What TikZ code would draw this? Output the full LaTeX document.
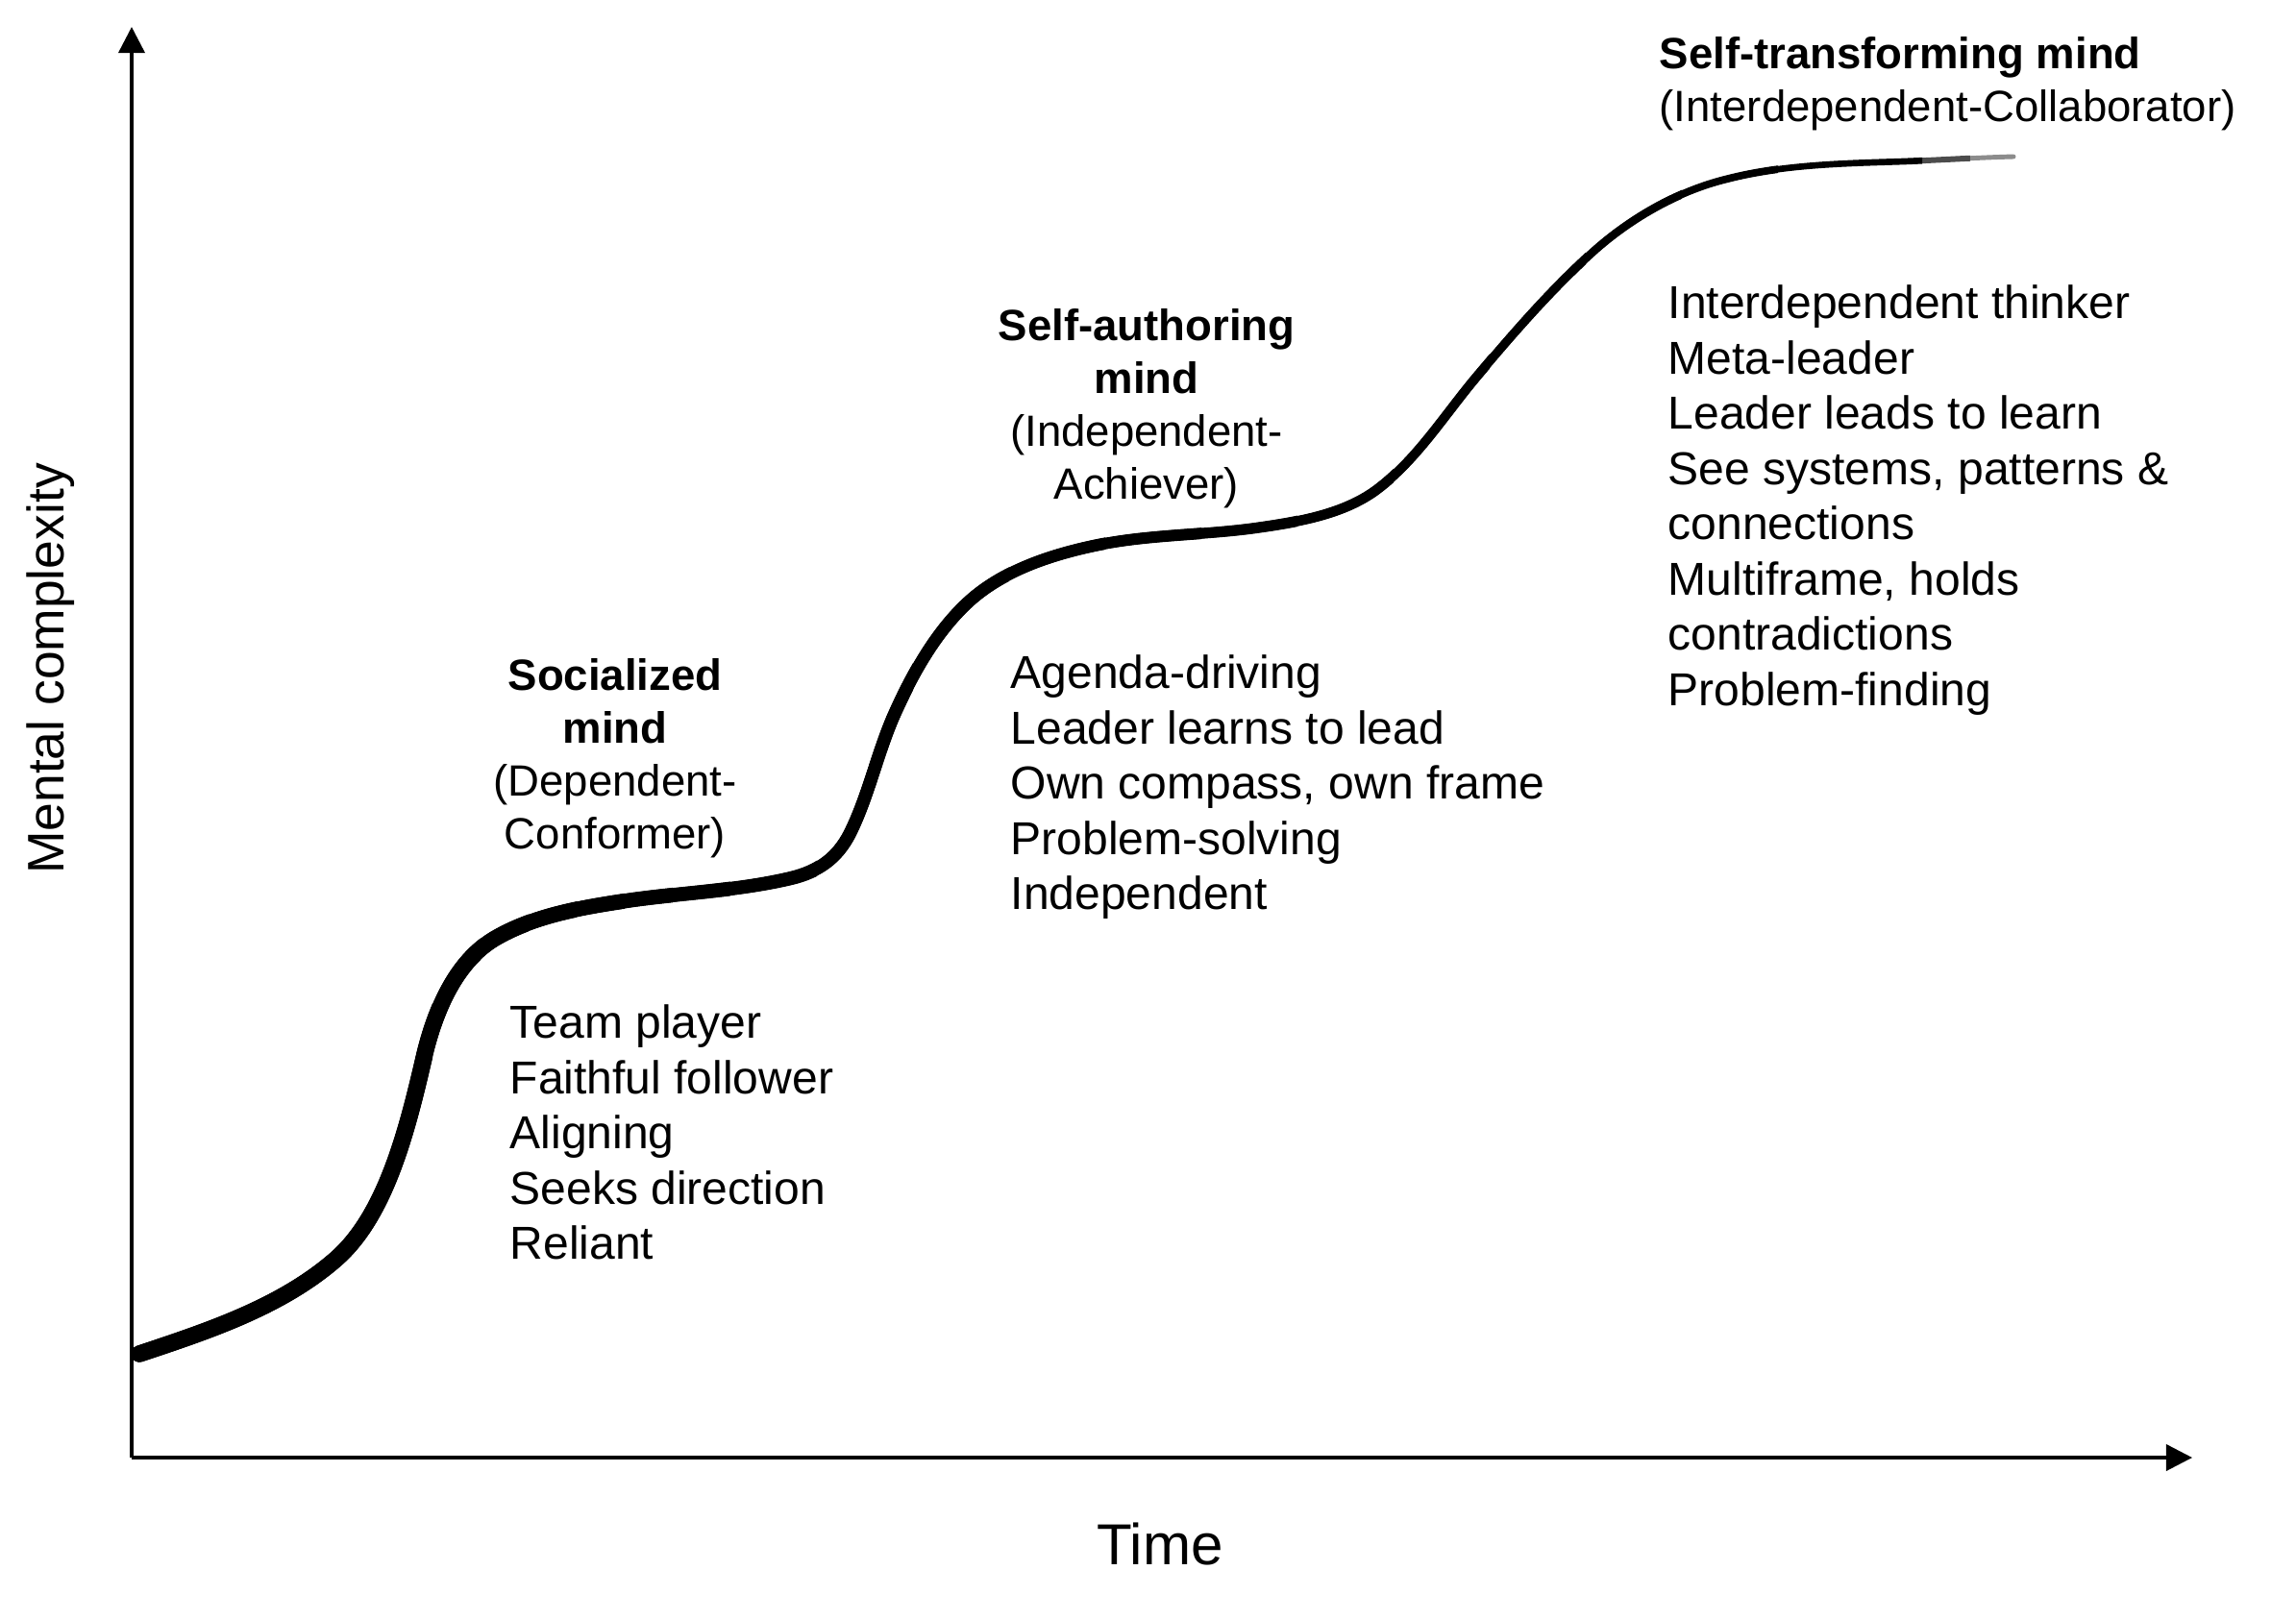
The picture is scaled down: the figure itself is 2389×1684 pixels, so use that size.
\documentclass[tikz,border=0pt]{standalone}
\usepackage{fontspec}
\setmainfont{Liberation Sans}
\usetikzlibrary{arrows.meta}
\begin{document}
\begin{tikzpicture}[x=0.01cm,y=-0.01cm,
  axis/.style={line width=1pt, -{Triangle[length=7.7pt,width=7.7pt]}},
  listtext/.style={anchor=north west, inner sep=0pt, align=left, font=\fontsize{13.66pt}{16.36pt}\selectfont},
  headtext/.style={inner sep=0pt, font=\fontsize{12.95pt}{15.65pt}\selectfont},
  curve/.style={line cap=round, line join=round}]
\useasboundingbox (0,0) rectangle (2389,1684);
\fill[white] (0,0) rectangle (2389,1684);
\coordinate (O) at (137,1517);
\coordinate (ytip) at (137,28);
\coordinate (xtip) at (2281,1517);
\draw[axis] (O) -- (ytip);
\draw[axis] (O) -- (xtip);
\newcommand\growthpath{(145,1409) .. controls (217,1385) and (293,1360) .. (350,1310)
 .. controls (402,1264) and (424,1175) .. (442,1097)
 .. controls (455,1044) and (478,997) .. (518,975)
 .. controls (559,952) and (608,944) .. (655,937)
 .. controls (711,929) and (768,927) .. (823,914)
 .. controls (852,907) and (871,893) .. (884,868)
 .. controls (903,830) and (912,787) .. (929,747)
 .. controls (948,704) and (972,660) .. (1006,628)
 .. controls (1042,594) and (1094,577) .. (1143,567)
 .. controls (1198,556) and (1255,557) .. (1310,549)
 .. controls (1352,543) and (1398,535) .. (1432,510)
 .. controls (1475,478) and (1504,430) .. (1539,389)
 .. controls (1577,344) and (1617,298) .. (1661,259)
 .. controls (1700,225) and (1748,198) .. (1798,186)
 .. controls (1857,171) and (1920,170) .. (1981,168)
 .. controls (2019,166.5) and (2057,164) .. (2095,163)}
\begin{scope}
\clip (2000,0) rectangle (2050,1684);
\draw[curve, line width=1.7pt, black!70] \growthpath;
\end{scope}
\begin{scope}
\clip (2050,0) rectangle (2389,1684);
\draw[curve, line width=1.4pt, black!45] \growthpath;
\end{scope}
\foreach \xc/\w in {2000/1.9,1850/2.2,1750/2.4,1650/2.6,1550/2.8,1450/3.0,1350/3.2,1250/3.4,1150/3.55,1050/3.7,950/3.85,850/4.05,760/4.2,700/4.35,650/4.5,600/4.6,550/4.75,500/4.85,450/5.0}{
\begin{scope}
\clip (0,0) rectangle (\xc,1684);
\draw[curve, line width=\w pt] \growthpath;
\end{scope}
}
\node[listtext] (soclist) at (530,1045) {Team player\\Faithful follower\\Aligning\\Seeks direction\\Reliant};
\node[listtext] (autlist) at (1051,681) {Agenda-driving\\Leader learns to lead\\Own compass, own frame\\Problem-solving\\Independent};
\node[listtext] (trlist) at (1735,296) {Interdependent thinker\\Meta-leader\\Leader leads to learn\\See systems, patterns \&\\connections\\Multiframe, holds\\contradictions\\Problem-finding};
\node[headtext, anchor=north, align=center] (soc) at (640,685) {\textbf{Socialized}\\\textbf{mind}\\(Dependent-\\Conformer)};
\node[headtext, anchor=north, align=center] (aut) at (1193,321) {\textbf{Self-authoring}\\\textbf{mind}\\(Independent-\\Achiever)};
\node[headtext, anchor=north west, align=left] (tr) at (1726,38) {\textbf{Self-transforming mind}\\(Interdependent-Collaborator)};
\node[rotate=90, inner sep=0pt, font=\fontsize{15.2pt}{18pt}\selectfont] (ylab) at (53,696) {Mental complexity};
\node[inner sep=0pt, font=\fontsize{17.1pt}{20pt}\selectfont] (xlab) at (1207,1607) {Time};
\end{tikzpicture}
\end{document}
